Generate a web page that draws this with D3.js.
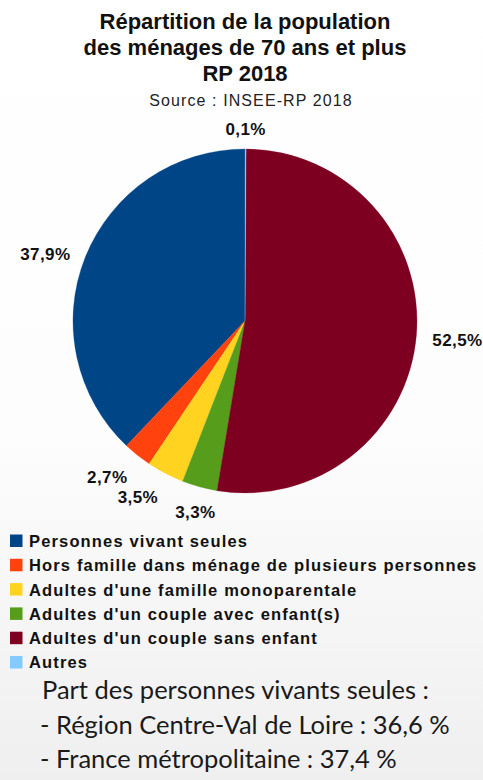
<!DOCTYPE html>
<html><head><meta charset="utf-8">
<script src="https://cdn.jsdelivr.net/npm/d3@7"></script>
<style>html,body{margin:0;padding:0;background:#fff;}svg{display:block;}</style>
</head><body>
<svg id="chart" width="483" height="780"></svg>
<script>
const titleLines = ["Répartition de la population", "des ménages de 70 ans et plus", "RP 2018"];
const sourceText = "Source : INSEE-RP 2018";
const categories = ["Personnes vivant seules", "Hors famille dans ménage de plusieurs personnes", "Adultes d'une famille monoparentale", "Adultes d'un couple avec enfant(s)", "Adultes d'un couple sans enfant", "Autres"];
const values = [37.9, 2.7, 3.5, 3.3, 52.5, 0.1];
const colors = ["#004586", "#ff420e", "#ffd320", "#579d1c", "#7e0021", "#83caff"];
const noteLines = ["Part des personnes vivants seules\u202F:", "- Région Centre-Val de Loire\u202F: 36,6\u202F%", "- France métropolitaine\u202F: 37,4\u202F%"];

const svg = d3.select("#chart");
const W = 483, H = 780;
const defs = svg.append("defs");
const grad = defs.append("linearGradient").attr("id","bg").attr("x1",0).attr("y1",0).attr("x2",0).attr("y2",1);
grad.append("stop").attr("offset","0%").attr("stop-color","#ffffff");
grad.append("stop").attr("offset","55%").attr("stop-color","#fdfdfd");
grad.append("stop").attr("offset","100%").attr("stop-color","#efefef");
svg.append("rect").attr("width",W).attr("height",H).attr("fill","url(#bg)");

// Title
svg.append("g").selectAll("text").data(titleLines).join("text")
  .attr("x", 245).attr("y", (d,i) => 29 + i*26)
  .attr("text-anchor","middle")
  .attr("font-family","'Liberation Sans', Arial, sans-serif")
  .attr("font-weight","bold").attr("font-size",22).attr("fill","#111")
  .text(d => d);
svg.append("text").attr("x",251).attr("y",106).attr("text-anchor","middle")
  .attr("font-family","'Liberation Sans', Arial, sans-serif")
  .attr("font-size",16).attr("letter-spacing",1.1).attr("fill","#222").text(sourceText);

// Pie
const cx = 245, cy = 321, R = 172;
const pie = d3.pie().sort(null).value(d => d).startAngle(0).endAngle(-2*Math.PI);
const arcs = pie(values);
const arcGen = d3.arc().innerRadius(0).outerRadius(R);
const g = svg.append("g").attr("transform",`translate(${cx},${cy})`);
g.selectAll("path").data(arcs).join("path")
  .attr("d", arcGen).attr("fill",(d,i)=>colors[i]).attr("stroke",(d,i)=>colors[i]).attr("stroke-width",0.3);

// Labels
const fmt = v => d3.format(".1f")(v).replace(".", ",") + "%";
const LR = 188;
arcs.forEach((a,i) => {
  const mid = (a.startAngle + a.endAngle)/2;
  const dx = Math.sin(mid), dy = -Math.cos(mid);
  const px = dx*LR, py = dy*LR;
  let anchor = "middle";
  if (dx < -0.3) anchor = "end"; else if (dx > 0.3) anchor = "start";
  let yc = py + 2.5;
  if (Math.abs(dy) > 0.5) yc += Math.sign(dy)*7;
  g.append("text").attr("x",px).attr("y",yc).attr("dy","0.36em")
    .attr("text-anchor",anchor)
    .attr("font-family","'Liberation Sans', Arial, sans-serif")
    .attr("font-weight","bold").attr("font-size",17).attr("letter-spacing",0.4).attr("fill","#111")
    .text(fmt(values[i]));
});

// Legend
const leg = svg.append("g");
const rowY = d3.scaleLinear().domain([0,1]).range([541, 565.3]);
categories.forEach((c,i) => {
  const y = rowY(i);
  leg.append("rect").attr("x",10).attr("y",y-6.5).attr("width",12.5).attr("height",12.5).attr("fill",colors[i]);
  leg.append("text").attr("x",29).attr("y",y).attr("dy","0.36em")
    .attr("font-family","'Liberation Sans', Arial, sans-serif")
    .attr("font-weight","bold").attr("font-size",16.5).attr("letter-spacing",1.15).attr("fill","#111")
    .text(c);
});

// Note
svg.append("g").selectAll("text").data(noteLines).join("text")
  .attr("x", (d,i)=> i===0 ? 42 : 40).attr("y",(d,i)=>699 + i*34.5)
  .attr("font-family","Lato, 'Open Sans', sans-serif")
  .attr("font-size",25.5).attr("fill","#1a1a1a")
  .text(d=>d);
</script>
</body></html>
